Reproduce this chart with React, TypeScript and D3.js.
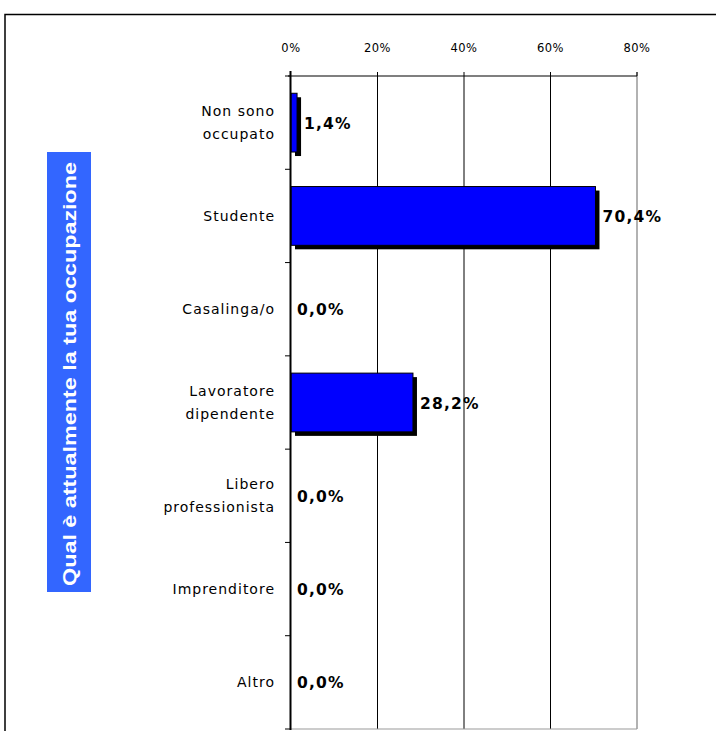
import React from "react";
import * as d3 from "d3";

const categories = [
  "Non sono|occupato",
  "Studente",
  "Casalinga/o",
  "Lavoratore|dipendente",
  "Libero|professionista",
  "Imprenditore",
  "Altro",
];
const values = [1.4, 70.4, 0, 28.2, 0, 0, 0];
const xTicks = [0, 20, 40, 60, 80];
const title = "Qual è attualmente la tua occupazione";

const W = 716;
const H = 731;
const font = "'Liberation Sans', Arial, sans-serif";
const wide = "'DejaVu Sans', Verdana, sans-serif";

const fmt = (v: number) => d3.format(".1f")(v).replace(".", ",") + "%";

export default function App() {
  const x = d3.scaleLinear().domain([0, 80]).range([291, 637]);
  const y = d3
    .scaleBand<string>()
    .domain(categories)
    .range([76, 729])
    .paddingInner(0.37)
    .paddingOuter(0.185);
  const step = y.step();
  const top = 76;
  const bottom = 729;

  return (
    <div style={{ position: "fixed", left: 0, top: 0 }}>
      <svg width={W} height={H} style={{ display: "block", background: "#fff" }}>
        {/* frame */}
        <rect x={5} y={14.5} width={800} height={800} fill="none" stroke="#000" strokeWidth={1.5} />

        {/* title box */}
        <rect x={47} y={152} width={44} height={440} fill="#3366ff" />
        <text
          transform="translate(75.5,374) rotate(-90)"
          textAnchor="middle"
          fill="#fff"
          fontFamily={font}
          fontWeight="bold"
          fontSize={19}
          textLength={424}
          lengthAdjust="spacingAndGlyphs"
        >
          {title}
        </text>

        {/* gridlines */}
        {xTicks.slice(1).map((t, i) => (
          <line
            key={t}
            x1={x(t)}
            x2={x(t)}
            y1={top - 4}
            y2={bottom}
            stroke={i === xTicks.length - 2 ? "#999" : "#000"}
            strokeWidth={i === xTicks.length - 2 ? 1.5 : 1}
          />
        ))}
        <line x1={x(80)} x2={x(80)} y1={top - 4} y2={top} stroke="#000" />

        {/* top axis */}
        <line x1={x(0) - 3} x2={x(80)} y1={top} y2={top} stroke="#000" strokeWidth={1.2} />
        <line x1={x(0)} x2={x(80)} y1={bottom} y2={bottom} stroke="#999" strokeWidth={1.2} />
        {xTicks.map((t) => (
          <text
            key={t}
            x={x(t)}
            y={52}
            textAnchor="middle"
            fontFamily={wide}
            fontSize={11.5}
            letterSpacing={0.5}
            fill="#000"
          >
            {t}%
          </text>
        ))}

        {/* bars */}
        {categories.map((c, i) =>
          values[i] > 0 ? (
            <g key={c}>
              <rect
                x={x(0) + 4}
                y={y(c)! + 4}
                width={x(values[i]) - x(0)}
                height={y.bandwidth()}
                fill="#000"
              />
              <rect
                x={x(0)}
                y={y(c)!}
                width={x(values[i]) - x(0)}
                height={y.bandwidth()}
                fill="#0000ff"
                stroke="#000"
                strokeWidth={1}
              />
            </g>
          ) : null
        )}

        {/* y axis */}
        <line x1={x(0) - 0.5} x2={x(0) - 0.5} y1={top - 5} y2={bottom + 1} stroke="#000" strokeWidth={2} />
        {d3.range(categories.length + 1).map((k) => (
          <line
            key={k}
            x1={x(0) - 6}
            x2={x(0)}
            y1={top + k * step}
            y2={top + k * step}
            stroke="#000"
            strokeWidth={1}
          />
        ))}

        {/* category labels */}
        {categories.map((c) => {
          const lines = c.split("|");
          const cy = y(c)! + y.bandwidth() / 2;
          const lh = 23;
          return (
            <text
              key={c}
              textAnchor="end"
              fontFamily={wide}
              fontSize={14}
              letterSpacing={1}
              fill="#000"
            >
              {lines.map((l, j) => (
                <tspan key={j} x={275} y={cy + 5 + (j - (lines.length - 1) / 2) * lh}>
                  {l}
                </tspan>
              ))}
            </text>
          );
        })}

        {/* value labels */}
        {categories.map((c, i) => (
          <text
            key={c}
            x={x(values[i]) + (values[i] > 0 ? 7 : 6)}
            y={y(c)! + y.bandwidth() / 2 + 6}
            fontFamily={wide}
            fontWeight="bold"
            fontSize={15.5}
            letterSpacing={1.2}
            fill="#000"
          >
            {fmt(values[i])}
          </text>
        ))}
      </svg>
    </div>
  );
}
